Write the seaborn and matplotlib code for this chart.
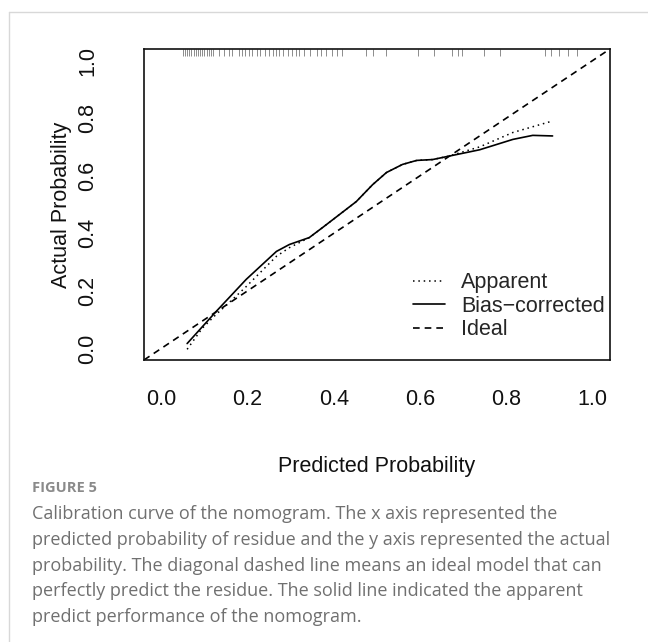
import numpy as np
import pandas as pd
import matplotlib
matplotlib.use('Agg')
import matplotlib.pyplot as plt
import seaborn as sns
from matplotlib.lines import Line2D

# calibration curve values
bias_x = [0.060, 0.127, 0.197, 0.267, 0.297, 0.343, 0.374, 0.413, 0.452, 0.490,
          0.522, 0.559, 0.592, 0.629, 0.664, 0.738, 0.815, 0.861, 0.907]
bias_y = [0.017, 0.128, 0.240, 0.337, 0.361, 0.385, 0.420, 0.465, 0.510, 0.569,
          0.611, 0.639, 0.653, 0.656, 0.667, 0.690, 0.726, 0.740, 0.738]

appar_x = [0.060, 0.095, 0.127, 0.158, 0.197, 0.267, 0.297, 0.343, 0.374, 0.413,
           0.452, 0.490, 0.522, 0.559, 0.592, 0.629, 0.664, 0.738, 0.815, 0.861, 0.907]
appar_y = [-0.003, 0.070, 0.118, 0.160, 0.215, 0.320, 0.350, 0.385, 0.420, 0.465,
           0.510, 0.569, 0.611, 0.639, 0.653, 0.656, 0.667, 0.700, 0.750, 0.770, 0.790]

ideal_x = [0, 1]
ideal_y = [0, 1]

# predicted probabilities shown as rug on top
rug_x = [0.05, 0.055, 0.06, 0.065, 0.07, 0.075, 0.08, 0.085, 0.09, 0.095, 0.10,
         0.105, 0.11, 0.115, 0.12, 0.135, 0.146, 0.158, 0.165, 0.181, 0.188, 0.195,
         0.203, 0.211, 0.223, 0.23, 0.24, 0.25, 0.258, 0.267, 0.274, 0.283, 0.293,
         0.303, 0.313, 0.32, 0.33, 0.345, 0.36, 0.371, 0.383, 0.395, 0.407, 0.42,
         0.475, 0.49, 0.522, 0.594, 0.633, 0.673, 0.687, 0.698, 0.749, 0.784,
         0.889, 0.904, 0.923, 0.942, 0.963]

ticks = [0.0, 0.2, 0.4, 0.6, 0.8, 1.0]
tick_labels = ['0.0', '0.2', '0.4', '0.6', '0.8', '1.0']

caption_head = 'FIGURE 5'
caption_lines = [
    'Calibration curve of the nomogram. The x axis represented the',
    'predicted probability of residue and the y axis represented the actual',
    'probability. The diagonal dashed line means an ideal model that can',
    'perfectly predict the residue. The solid line indicated the apparent',
    'predict performance of the nomogram.',
]

sns.set_style('white')
plt.rcParams['font.family'] = ['Liberation Sans', 'DejaVu Sans']

fig = plt.figure(figsize=(6.48, 6.42), dpi=100)
ax = fig.add_axes([0.2222, 0.4393, 0.7191, 0.4844])

df_app = pd.DataFrame({'x': appar_x, 'y': appar_y})
df_bias = pd.DataFrame({'x': bias_x, 'y': bias_y})

sns.lineplot(data=df_app, x='x', y='y', ax=ax, color='black', lw=1.1,
             linestyle=(0, (1, 2.5)), estimator=None)
sns.lineplot(data=df_bias, x='x', y='y', ax=ax, color='black', lw=1.2,
             estimator=None)
ax.axline((ideal_x[0], ideal_y[0]), (ideal_x[1], ideal_y[1]), color='black',
          lw=1.2, linestyle=(0, (4, 3)))

# rug along the top
ax.vlines(rug_x, 1 - 0.024, 1, transform=ax.get_xaxis_transform(),
          color='#7a7a7a', lw=0.6)

ax.set_xlim(-0.04, 1.04)
ax.set_ylim(-0.04, 1.04)
ax.set_xticks(ticks)
ax.set_xticklabels(tick_labels)
ax.set_yticks(ticks)
ax.set_yticklabels(tick_labels, rotation=90, va='center')
ax.tick_params(axis='both', labelsize=15.5, length=9, width=1, color='#333333',
               direction='out', labelcolor='#111111')
ax.tick_params(axis='x', pad=12)
ax.tick_params(axis='y', pad=24)
for s in ax.spines.values():
    s.set_color('#111111')
    s.set_linewidth(1.2)

ax.set_xlabel('Predicted Probability', fontsize=15.5, color='#111111')
ax.set_ylabel('Actual Probability', fontsize=15.5, color='#111111')
ax.xaxis.label.set_va('center')
ax.yaxis.label.set_va('center')
ax.xaxis.set_label_coords(0.5, -0.344)
ax.yaxis.set_label_coords(-0.176, 0.5)

handles = [Line2D([], [], color='black', lw=1.1, linestyle=(0, (1, 2.5))),
           Line2D([], [], color='black', lw=1.2),
           Line2D([], [], color='black', lw=1.2, linestyle=(0, (4, 3)))]
ax.legend(handles, ['Apparent', 'Bias\u2212corrected', 'Ideal'], loc='upper left',
          bbox_to_anchor=(0.577, 0.282), frameon=False, fontsize=15.5,
          handlelength=1.5, handletextpad=0.75, labelspacing=0.12,
          borderpad=0, borderaxespad=0)

# light frame of the figure panel
fig.add_artist(Line2D([9 / 648, 9 / 648], [0, 1 - 12 / 642], color='#d8d8d8', lw=1))
fig.add_artist(Line2D([9 / 648, 1], [1 - 12 / 642, 1 - 12 / 642], color='#d8d8d8', lw=1))

fig.text(32 / 648, 1 - 488 / 642, caption_head, fontsize=10.5, color='#8a8a8a',
         fontweight='bold', va='center', family=['Open Sans', 'DejaVu Sans'])
for i, line in enumerate(caption_lines):
    fig.text(32 / 648, 1 - (514 + 25.8 * i) / 642, line, fontsize=13,
             color='#707070', va='center', family=['Open Sans', 'DejaVu Sans'])

fig.savefig('out.png', dpi=100)
